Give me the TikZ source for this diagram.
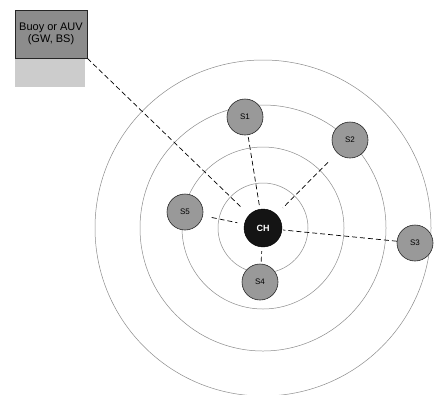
\documentclass[tikz,border=0pt]{standalone}
\usepackage{fontspec}
\setmainfont{Liberation Sans}
\begin{document}
\begin{tikzpicture}[x=1pt,y=-1pt,
  ring/.style={draw=black!45, line width=0.5pt},
  sat/.style={circle, draw=black!85, fill=black!40, minimum size=36pt, inner sep=0pt,
              font=\fontsize{8}{9}\selectfont, line width=0.6pt},
  chnode/.style={circle, fill=black!92, draw=black, minimum size=38pt, inner sep=0pt,
                 text=white, font=\bfseries\fontsize{9}{10}\selectfont},
  link/.style={dash pattern=on 5pt off 3pt, line width=0.7pt},
  buoybox/.style={draw=black!85, fill=black!45, line width=0.8pt, minimum width=72pt,
                  minimum height=48pt, inner sep=1pt, align=center,
                  font=\fontsize{11}{12.5}\selectfont},
  shade/.style={fill=black!20}]
\useasboundingbox (0,0) rectangle (435,394);
\clip (0,0) rectangle (435,394);
\fill[white] (0,0) rectangle (435,394);
\coordinate (c) at (263,228);
\draw[ring] (c) circle (45pt);
\draw[ring] (c) circle (81pt);
\draw[ring] (c) circle (123pt);
\draw[ring] (c) circle (168pt);
% buoy box
\node[buoybox] (box) at (51,34) {Buoy or AUV\\(GW, BS)};
\fill[shade] (box.south west) ++(0.4,0.4) rectangle ++(70,28);
% nodes
\node[chnode] (ch) at (263,228) {CH};
\node[sat] (s1) at (245,117) {S1};
\node[sat] (s2) at (350,140) {S2};
\node[sat] (s3) at (415,243) {S3};
\node[sat] (s4) at (260,282) {S4};
\node[sat] (s5) at (185,212) {S5};
% links
\draw[link, shorten <=2pt, shorten >=2pt] (s1) -- (ch);
\draw[link, shorten <=13pt, shorten >=9pt] (s2) -- (ch);
\draw[link, shorten <=0pt, shorten >=1pt] (s3) -- (ch);
\draw[link, shorten <=2pt, shorten >=4pt] (s4) -- (ch);
\draw[link, shorten <=9pt, shorten >=7pt] (s5) -- (ch);
\draw[link] (box.south east) -- ([shift={(-21,-20)}]ch.center);
\end{tikzpicture}
\end{document}
